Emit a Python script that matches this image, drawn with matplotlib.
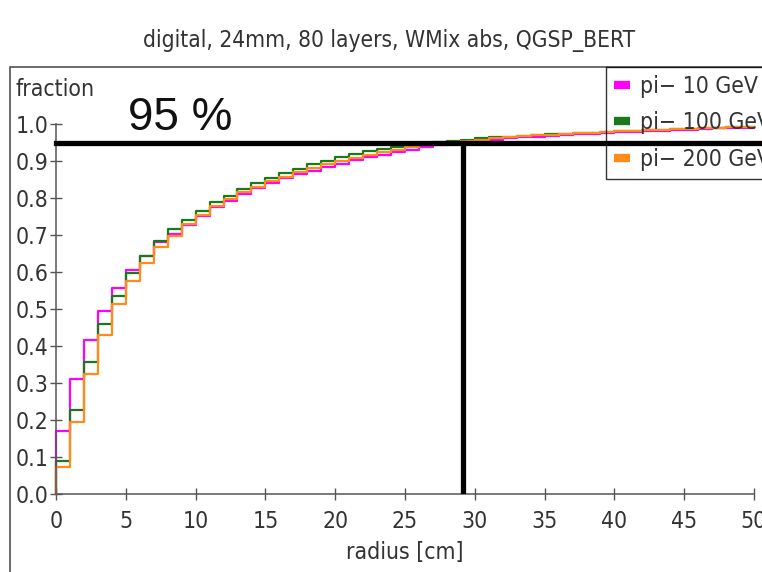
import numpy as np
import matplotlib
matplotlib.use("Agg")
import matplotlib.pyplot as plt
from matplotlib.patches import Rectangle
from matplotlib.lines import Line2D

# cumulative fraction per 1 cm radius bin, 0..50 cm
edges = np.arange(0, 51, 1)
frac_10 = [0.170, 0.311, 0.417, 0.495, 0.557, 0.605, 0.644, 0.680, 0.704, 0.728,
           0.752, 0.776, 0.793, 0.810, 0.826, 0.840, 0.853, 0.864, 0.874, 0.884,
           0.893, 0.902, 0.910, 0.917, 0.924, 0.931, 0.937, 0.942, 0.947, 0.951,
           0.955, 0.958, 0.961, 0.964, 0.966, 0.968, 0.970, 0.972, 0.974, 0.976,
           0.978, 0.979, 0.981, 0.982, 0.984, 0.985, 0.986, 0.988, 0.989, 0.990]
frac_100 = [0.090, 0.228, 0.358, 0.459, 0.536, 0.597, 0.644, 0.685, 0.716, 0.741,
            0.766, 0.790, 0.806, 0.824, 0.840, 0.854, 0.867, 0.878, 0.892, 0.901,
            0.910, 0.919, 0.926, 0.932, 0.939, 0.944, 0.948, 0.952, 0.955, 0.958,
            0.961, 0.964, 0.966, 0.968, 0.970, 0.972, 0.974, 0.976, 0.977, 0.979,
            0.980, 0.982, 0.983, 0.985, 0.986, 0.987, 0.988, 0.990, 0.991, 0.992]
frac_200 = [0.072, 0.195, 0.324, 0.429, 0.514, 0.575, 0.625, 0.667, 0.698, 0.730,
            0.755, 0.779, 0.797, 0.815, 0.831, 0.845, 0.858, 0.869, 0.881, 0.891,
            0.900, 0.909, 0.917, 0.924, 0.931, 0.937, 0.942, 0.947, 0.951, 0.955,
            0.958, 0.961, 0.964, 0.967, 0.969, 0.971, 0.973, 0.975, 0.977, 0.979,
            0.980, 0.982, 0.983, 0.985, 0.986, 0.987, 0.988, 0.990, 0.991, 0.992]
labels = ["pi\u2212 10 GeV", "pi\u2212 100 GeV", "pi\u2212 200 GeV"]
colors = ["#ff00ff", "#1a7a1a", "#ff8c1a"]
level = 0.95
r95 = 29.15

plt.rcParams['font.family'] = ['DejaVu Sans']
plt.rcParams['font.stretch'] = 'condensed'
txt = "#333333"
fs = 16.5

fig = plt.figure(figsize=(7.62, 5.72), dpi=100)
ax = fig.add_axes([56/762, 1 - 494/572, 698/762, 370/572])

for vals, c in zip([frac_10, frac_100, frac_200], colors):
    xs = np.r_[0, edges]
    ys = np.r_[0, vals, vals[-1]]
    ax.plot(xs, ys, drawstyle="steps-post", color=c, lw=1.6, clip_on=False)

ax.plot([0, 60], [level, level], color="black", lw=3.8, clip_on=False, zorder=5)
ax.plot([r95, r95], [0, level], color="black", lw=3.8, zorder=5)

ax.set_xlim(0, 50)
ax.set_ylim(0, 1.0)
ax.set_xticks(np.arange(0, 51, 5))
ax.set_yticks(np.arange(0, 1.01, 0.1))
ax.set_yticklabels([f"{v:.1f}" for v in np.arange(0, 1.01, 0.1)])
for s in ["top", "right"]:
    ax.spines[s].set_visible(False)
for s in ["left", "bottom"]:
    ax.spines[s].set_color("#555555")
    ax.spines[s].set_linewidth(1.1)
ax.tick_params(direction="inout", length=9, width=1.0, color="#555555",
               labelsize=fs, labelcolor=txt)
ax.tick_params(axis="y", pad=1)
ax.tick_params(axis="x", pad=7)
ax.patch.set_alpha(0)

fig.text(389.5/762, 1 - 40/572, "digital, 24mm, 80 layers, WMix abs, QGSP_BERT",
         ha="center", va="center", fontsize=16.3, color=txt)
fig.text(16/762, 1 - 90/572, "fraction", ha="left", va="center",
         fontsize=fs, color=txt)
fig.text(405/762, 1 - 552/572, "radius [cm]", ha="center", va="center",
         fontsize=fs, color=txt)
fig.text(128/762, 1 - 130/572, "95 %", ha="left", va="baseline",
         fontsize=33, family="Liberation Sans", stretch="normal", color="#111111")

# outer frame
fig.patches.append(Rectangle((10/762, -0.1), 1.0, 1 - 67/572 + 0.1,
                             transform=fig.transFigure, fill=False,
                             edgecolor="#444444", lw=1.1))

handles = [Line2D([0], [0], color=c, lw=6, solid_capstyle="butt") for c in colors]
leg = fig.legend(handles, labels, loc="upper left",
                 bbox_to_anchor=(606/762, 1 - 67/572), frameon=True,
                 fancybox=False, fontsize=fs, handlelength=0.7,
                 handletextpad=0.45, labelspacing=0.58,
                 borderpad=0.35, borderaxespad=0)
leg.get_frame().set_edgecolor("black")
leg.get_frame().set_facecolor("none")
leg.get_frame().set_linewidth(1.0)
for t in leg.get_texts():
    t.set_color(txt)

fig.savefig("out.png", dpi=100)
